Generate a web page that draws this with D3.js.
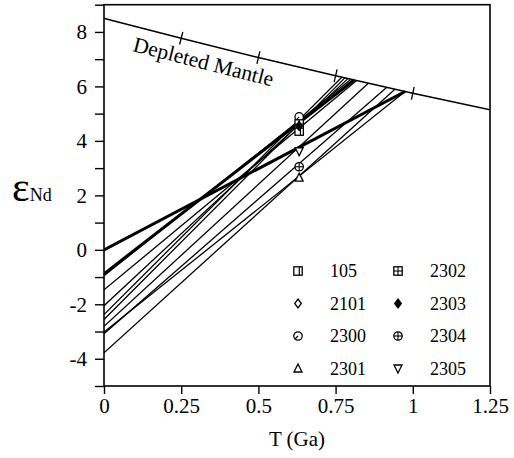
<!DOCTYPE html>
<html><head><meta charset="utf-8">
<script src="https://cdn.jsdelivr.net/npm/d3@7"></script>
<style>
body{margin:0;background:#fff;}
svg{display:block;font-family:"Liberation Serif","Times New Roman",serif;}
</style></head>
<body><svg id="c" width="514" height="458"></svg>
<script>
// Depleted mantle curve (T in Ga, eps Nd)
const dmT   = [0, 0.25, 0.5, 0.75, 1.0, 1.25];
const dmEps = [8.5, 7.77, 7.06, 6.39, 5.75, 5.14];
const dmTickT = [0.25, 0.5, 0.75, 1.0];

// Nd evolution lines: present-day eps, model age (TDM) and eps at TDM on the DM curve
const lineEps0  = [0.0, -0.88, -0.95, -1.47, -2.05, -2.38, -2.56, -2.81, -3.08, -3.02, -3.78];
const lineTdm   = [0.975, 0.81, 0.80, 0.818, 0.79, 0.77, 0.78, 0.856, 0.915, 0.975, 0.942];
const lineEpsDm = [5.813, 6.234, 6.26, 6.213, 6.286, 6.338, 6.312, 6.115, 5.964, 5.813, 5.896];
const lineThick = [true, true, false, false, false, false, false, false, false, false, false];

// Samples at crystallisation age
const sampleNames = ["105", "2101", "2300", "2301", "2302", "2303", "2304", "2305"];
const sampleT     = [0.632, 0.632, 0.632, 0.632, 0.632, 0.632, 0.632, 0.632];
const sampleEps   = [4.36, 4.7, 4.88, 2.65, 4.62, 4.55, 3.05, 3.62];

const xTicks = [0, 0.25, 0.5, 0.75, 1, 1.25];
const xTickLabels = ["0", "0.25", "0.5", "0.75", "1", "1.25"];
const yTicks = [-4, -2, 0, 2, 4, 6, 8];

const svg = d3.select("#c");
const x = d3.scaleLinear().domain([0, 1.25]).range([104, 490]);
const y = d3.scaleLinear().domain([-5, 9]).range([386, 4.7]);

// frame
svg.append("rect").attr("x", x(0)).attr("y", y(9)).attr("width", x(1.25) - x(0)).attr("height", y(-5) - y(9))
  .attr("fill", "none").attr("stroke", "#000").attr("stroke-width", 1.6);

// axes
const xAxis = d3.axisBottom(x).tickValues(xTicks).tickSize(8).tickPadding(4)
  .tickFormat((d, i) => xTickLabels[i]);
const gx = svg.append("g").attr("transform", `translate(0,${y(-5)})`).call(xAxis);
const yAxis = d3.axisLeft(y).tickValues(d3.range(-5, 10, 1)).tickSize(9).tickPadding(8)
  .tickFormat(d => yTicks.includes(d) ? String(d) : "");
const gy = svg.append("g").attr("transform", `translate(${x(0)},0)`).call(yAxis);
[gx, gy].forEach(g => {
  g.select(".domain").remove();
  g.selectAll("line").attr("stroke", "#000").attr("stroke-width", 1.4);
  g.selectAll("text").attr("font-size", 21).attr("fill", "#000")
    .attr("font-family", "Liberation Serif, serif");
});

// clip
svg.append("clipPath").attr("id", "clip").append("rect")
  .attr("x", x(0)).attr("y", y(9)).attr("width", x(1.25) - x(0)).attr("height", y(-5) - y(9));
const plot = svg.append("g").attr("clip-path", "url(#clip)");

// DM curve
const dmData = dmT.map((t, i) => [t, dmEps[i]]);
plot.append("path").datum(dmData)
  .attr("d", d3.line().x(d => x(d[0])).y(d => y(d[1])).curve(d3.curveNatural))
  .attr("fill", "none").attr("stroke", "#000").attr("stroke-width", 1.5);

// DM ticks (perpendicular)
dmTickT.forEach(t => {
  const i = dmT.indexOf(t);
  const px = x(t), py = y(dmEps[i]);
  const x1 = x(dmT[i - 1]), y1 = y(dmEps[i - 1]), x2 = x(dmT[i + 1]), y2 = y(dmEps[i + 1]);
  const ang = Math.atan2(y2 - y1, x2 - x1);
  const nx = -Math.sin(ang), ny = Math.cos(ang), L = 6.5;
  plot.append("line").attr("x1", px - nx * L).attr("y1", py - ny * L)
    .attr("x2", px + nx * L).attr("y2", py + ny * L).attr("stroke", "#000").attr("stroke-width", 1.3);
});

// evolution lines
lineEps0.forEach((e0, i) => {
  plot.append("line").attr("x1", x(0)).attr("y1", y(e0))
    .attr("x2", x(lineTdm[i])).attr("y2", y(lineEpsDm[i]))
    .attr("stroke", "#000").attr("stroke-width", lineThick[i] ? 3 : 1.3);
});

// DM label
const a = Math.atan2(y(dmEps[2]) - y(dmEps[0]), x(dmT[2]) - x(dmT[0])) * 180 / Math.PI;
svg.append("text").attr("transform", `translate(132,51) rotate(${a})`)
  .attr("font-family", "Liberation Serif, serif").attr("font-size", 21.5).text("Depleted Mantle");

// symbols
function drawSym(g, name, cx, cy) {
  const s = 4.2;
  const st = {fill: "#fff", stroke: "#000", "stroke-width": 1.3};
  const ap = (el, o) => { Object.entries(o).forEach(([k, v]) => el.attr(k, v)); return el; };
  if (name === "105") {
    ap(g.append("rect").attr("x", cx - s).attr("y", cy - s).attr("width", 2 * s).attr("height", 2 * s), st);
    g.append("line").attr("x1", cx + 1.3).attr("x2", cx + 1.3).attr("y1", cy - s).attr("y2", cy + s).attr("stroke", "#000").attr("stroke-width", 1.2);
  } else if (name === "2302") {
    ap(g.append("rect").attr("x", cx - s).attr("y", cy - s).attr("width", 2 * s).attr("height", 2 * s), st);
    g.append("line").attr("x1", cx).attr("x2", cx).attr("y1", cy - s).attr("y2", cy + s).attr("stroke", "#000").attr("stroke-width", 1.1);
    g.append("line").attr("x1", cx - s).attr("x2", cx + s).attr("y1", cy).attr("y2", cy).attr("stroke", "#000").attr("stroke-width", 1.1);
  } else if (name === "2101" || name === "2303") {
    const p = `M${cx},${cy - 4.5}L${cx + 3.3},${cy}L${cx},${cy + 4.5}L${cx - 3.3},${cy}Z`;
    ap(g.append("path").attr("d", p), st).attr("fill", name === "2303" ? "#000" : "#fff");
  } else if (name === "2300") {
    ap(g.append("circle").attr("cx", cx).attr("cy", cy).attr("r", s), st);
    g.append("line").attr("x1", cx).attr("y1", cy).attr("x2", cx - 3).attr("y2", cy + 3).attr("stroke", "#000").attr("stroke-width", 1.2);
  } else if (name === "2304") {
    ap(g.append("circle").attr("cx", cx).attr("cy", cy).attr("r", s), st);
    g.append("line").attr("x1", cx).attr("x2", cx).attr("y1", cy - s).attr("y2", cy + s).attr("stroke", "#000").attr("stroke-width", 1.1);
    g.append("line").attr("x1", cx - s).attr("x2", cx + s).attr("y1", cy).attr("y2", cy).attr("stroke", "#000").attr("stroke-width", 1.1);
  } else if (name === "2301") {
    ap(g.append("path").attr("d", `M${cx},${cy - 4.5}L${cx + 4},${cy + 3.5}L${cx - 4},${cy + 3.5}Z`), st);
  } else if (name === "2305") {
    ap(g.append("path").attr("d", `M${cx},${cy + 4.5}L${cx + 4},${cy - 3.5}L${cx - 4},${cy - 3.5}Z`), st);
  }
}
const mg = svg.append("g");
sampleNames.forEach((n, i) => drawSym(mg, n, x(sampleT[i]), y(sampleEps[i])));

// legend
const legCols = [[0, 1, 2, 3], [4, 5, 6, 7]];
const lg = svg.append("g");
legCols.forEach((col, ci) => {
  col.forEach((si, ri) => {
    const sx = 298 + ci * 100, sy = 271 + ri * 32.5;
    drawSym(lg, sampleNames[si], sx, sy);
    lg.append("text").attr("x", sx + 32).attr("y", sy + 6).attr("font-size", 18).text(sampleNames[si]);
  });
});

// axis titles
svg.append("text").attr("x", 297).attr("y", 446).attr("text-anchor", "middle").attr("font-size", 21).text("T (Ga)");
const yl = svg.append("text").attr("x", 12).attr("y", 201);
yl.append("tspan").attr("font-size", 42).text("ε");
yl.append("tspan").attr("font-size", 18).attr("dy", 0).text("Nd");
</script></body></html>
